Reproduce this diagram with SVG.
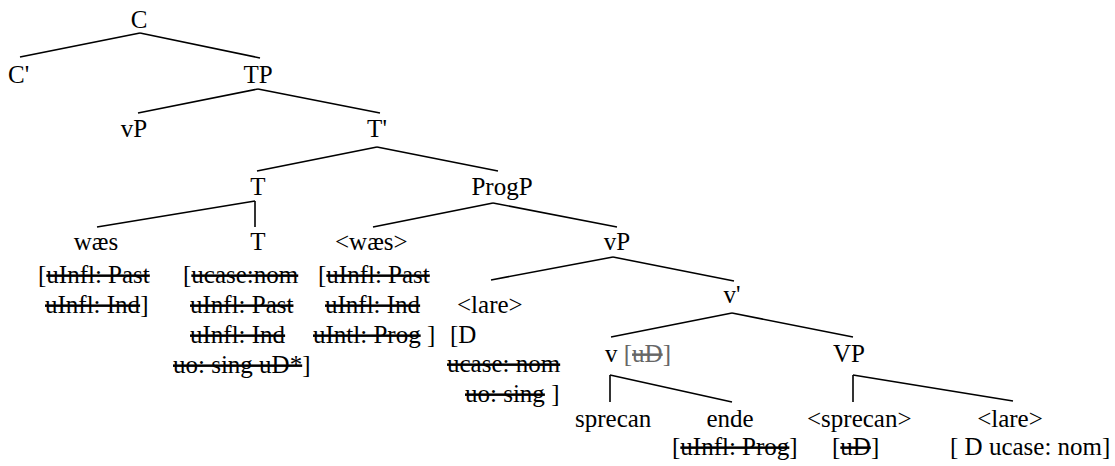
<svg xmlns="http://www.w3.org/2000/svg" width="1115" height="466" viewBox="0 0 1115 466">
<style>
text{font-family:"Liberation Serif","Times New Roman",serif;font-size:25px;fill:#000}
.m{text-anchor:middle}
.s{text-decoration:line-through}
.g{fill:#666}
line{stroke:#000;stroke-width:1.6;fill:none}
</style>
<rect width="1115" height="466" fill="#fff"/>
<g id="connectors">
<line x1="140" y1="33" x2="20" y2="57"/>
<line x1="140" y1="33" x2="260" y2="58"/>
<line x1="258" y1="89" x2="138" y2="113"/>
<line x1="258" y1="89" x2="380" y2="113"/>
<line x1="377" y1="147" x2="257" y2="171"/>
<line x1="377" y1="147" x2="498" y2="171"/>
<line x1="255" y1="201" x2="97" y2="227"/>
<line x1="255" y1="201" x2="255" y2="227"/>
<line x1="493" y1="203" x2="373" y2="227"/>
<line x1="493" y1="203" x2="617" y2="227"/>
<line x1="613" y1="257" x2="491" y2="280"/>
<line x1="613" y1="257" x2="734" y2="281"/>
<line x1="732" y1="313" x2="611" y2="337"/>
<line x1="732" y1="313" x2="853" y2="337"/>
<line x1="610" y1="375" x2="610" y2="402"/>
<line x1="610" y1="375" x2="732" y2="402"/>
<line x1="853" y1="375" x2="853" y2="402"/>
<line x1="853" y1="375" x2="1013" y2="401"/>
</g>
<g id="n-C"><text class="m" x="139" y="28">C</text></g>
<g id="n-Cbar"><text x="8" y="83">C'</text></g>
<g id="n-TP"><text class="m" x="258" y="83">TP</text></g>
<g id="n-vP1"><text class="m" x="134" y="137">vP</text></g>
<g id="n-Tbar"><text class="m" x="377" y="137">T'</text></g>
<g id="n-T1"><text class="m" x="258" y="195">T</text></g>
<g id="n-ProgP"><text class="m" x="502" y="195">ProgP</text></g>
<g id="n-waes">
<text class="m" x="96" y="250">wæs</text>
<text x="38" y="283">[<tspan class="s">uInfl: Past</tspan></text>
<text x="45" y="313"><tspan class="s">uInfl: Ind</tspan>]</text>
</g>
<g id="n-T2">
<text class="m" x="258" y="250">T</text>
<text x="183" y="283">[<tspan class="s">ucase:nom</tspan></text>
<text x="190" y="313"><tspan class="s">uInfl: Past</tspan></text>
<text x="190" y="343"><tspan class="s">uInfl: Ind</tspan></text>
<text x="173" y="373"><tspan class="s">uo: sing uD*</tspan>]</text>
</g>
<g id="n-waes2">
<text x="335" y="250">&lt;wæs&gt;</text>
<text x="318" y="283">[<tspan class="s">uInfl: Past</tspan></text>
<text x="325" y="313"><tspan class="s">uInfl: Ind</tspan></text>
<text x="313" y="343"><tspan class="s">uIntl: Prog</tspan> ]</text>
</g>
<g id="n-vP2"><text class="m" x="617" y="250">vP</text></g>
<g id="n-lare1">
<text x="457" y="313">&lt;lare&gt;</text>
<text x="450" y="343">[D</text>
<text x="447" y="372"><tspan class="s">ucase: nom</tspan></text>
<text x="465" y="402"><tspan class="s">uo: sing</tspan> ]</text>
</g>
<g id="n-vbar"><text class="m" x="732" y="303">v'</text></g>
<g id="n-v"><text x="605" y="362">v <tspan class="g">[<tspan class="s">uD</tspan>]</tspan></text></g>
<g id="n-VP"><text class="m" x="849" y="362">VP</text></g>
<g id="n-sprecan"><text x="575" y="427">sprecan</text></g>
<g id="n-ende">
<text class="m" x="730" y="427">ende</text>
<text x="672" y="455">[<tspan class="s">uInfl: Prog</tspan>]</text>
</g>
<g id="n-sprecan2">
<text x="807" y="427">&lt;sprecan&gt;</text>
<text x="832" y="455">[<tspan class="s">uD</tspan>]</text>
</g>
<g id="n-lare2">
<text class="m" x="1010" y="427">&lt;lare&gt;</text>
<text x="950" y="455">[ D ucase: nom]</text>
</g>
</svg>
